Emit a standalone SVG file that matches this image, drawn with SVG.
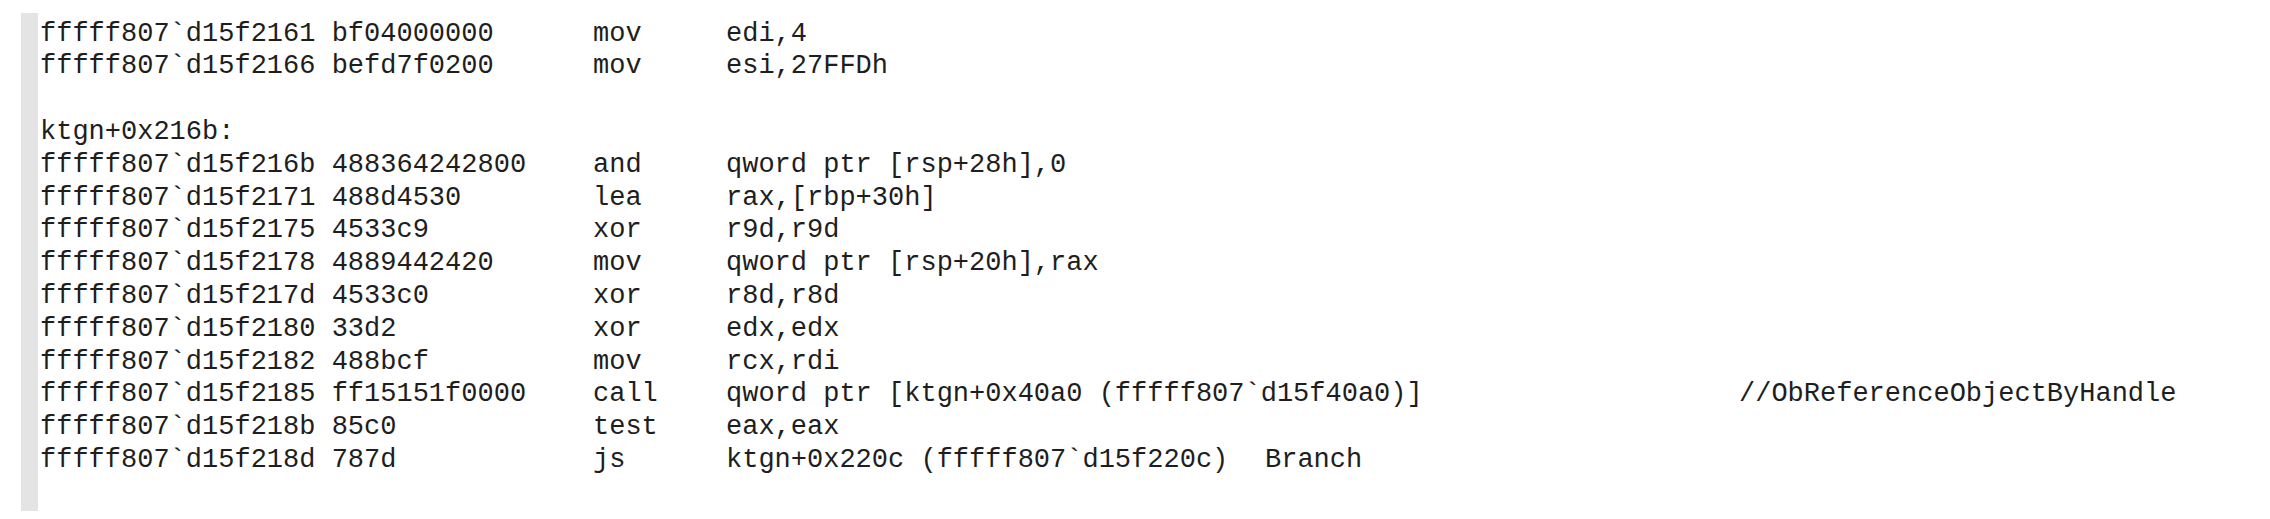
<svg xmlns="http://www.w3.org/2000/svg" width="2270" height="519" viewBox="0 0 2270 519">
<style>
text{font-family:"Liberation Mono","Courier New",monospace;font-size:27px;fill:#1e1e1e;white-space:pre}
</style>
<rect width="2270" height="519" fill="#ffffff"/>
<rect id="gutter" x="21" y="13" width="17" height="498" fill="#e4e4e4"/>
<g id="listing">
<text x="40" y="40.5">fffff807`d15f2161 bf04000000</text><text x="593" y="40.5">mov</text><text x="726" y="40.5">edi,4</text>
<text x="40" y="73.3">fffff807`d15f2166 befd7f0200</text><text x="593" y="73.3">mov</text><text x="726" y="73.3">esi,27FFDh</text>
<text x="40" y="138.9">ktgn+0x216b:</text>
<text x="40" y="171.7">fffff807`d15f216b 488364242800</text><text x="593" y="171.7">and</text><text x="726" y="171.7">qword ptr [rsp+28h],0</text>
<text x="40" y="204.5">fffff807`d15f2171 488d4530</text><text x="593" y="204.5">lea</text><text x="726" y="204.5">rax,[rbp+30h]</text>
<text x="40" y="237.3">fffff807`d15f2175 4533c9</text><text x="593" y="237.3">xor</text><text x="726" y="237.3">r9d,r9d</text>
<text x="40" y="270.1">fffff807`d15f2178 4889442420</text><text x="593" y="270.1">mov</text><text x="726" y="270.1">qword ptr [rsp+20h],rax</text>
<text x="40" y="302.9">fffff807`d15f217d 4533c0</text><text x="593" y="302.9">xor</text><text x="726" y="302.9">r8d,r8d</text>
<text x="40" y="335.7">fffff807`d15f2180 33d2</text><text x="593" y="335.7">xor</text><text x="726" y="335.7">edx,edx</text>
<text x="40" y="368.5">fffff807`d15f2182 488bcf</text><text x="593" y="368.5">mov</text><text x="726" y="368.5">rcx,rdi</text>
<text x="40" y="401.3">fffff807`d15f2185 ff15151f0000</text><text x="593" y="401.3">call</text><text x="726" y="401.3">qword ptr [ktgn+0x40a0 (fffff807`d15f40a0)]</text><text x="1739" y="401.3">//ObReferenceObjectByHandle</text>
<text x="40" y="434.1">fffff807`d15f218b 85c0</text><text x="593" y="434.1">test</text><text x="726" y="434.1">eax,eax</text>
<text x="40" y="466.9">fffff807`d15f218d 787d</text><text x="593" y="466.9">js</text><text x="726" y="466.9">ktgn+0x220c (fffff807`d15f220c)</text><text x="1265" y="466.9">Branch</text>
</g>
</svg>
